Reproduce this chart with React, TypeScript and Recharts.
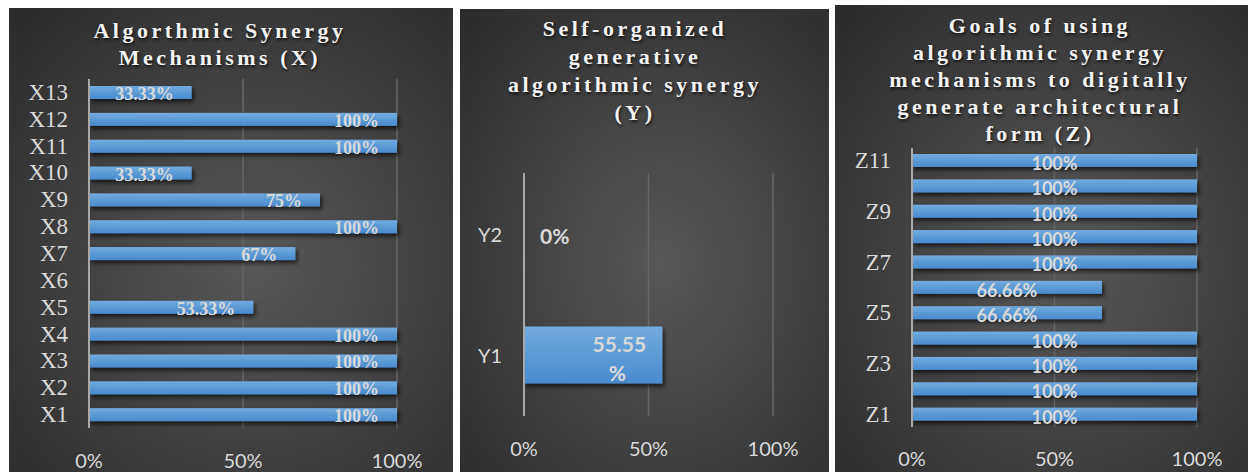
import React from 'react';
import { BarChart, Bar, XAxis, YAxis, CartesianGrid, LabelList } from 'recharts';

// categories listed bottom-up, the way the source spreadsheet holds them
const xCategories = ['X1', 'X2', 'X3', 'X4', 'X5', 'X6', 'X7', 'X8', 'X9', 'X10', 'X11', 'X12', 'X13'];
const xValues = [100, 100, 100, 100, 53.33, 0, 67, 100, 75, 33.33, 100, 100, 33.33];

const yCategories = ['Y1', 'Y2'];
const yValues = [55.55, 0];

const zCategories = ['Z1', 'Z2', 'Z3', 'Z4', 'Z5', 'Z6', 'Z7', 'Z8', 'Z9', 'Z10', 'Z11'];
const zValues = [100, 100, 100, 100, 66.66, 66.66, 100, 100, 100, 100, 100];

const percentTicks = [0, 50, 100];

const xTitle = ['Algorthmic Synergy', 'Mechanisms (X)'];
const yTitle = ['Self-organized', 'generative', 'algorithmic synergy', '(Y)'];
const zTitle = [
  'Goals of using',
  'algorithmic synergy',
  'mechanisms to digitally',
  'generate architectural',
  'form (Z)',
];

const SERIF = '"Liberation Serif", "Times New Roman", serif';
const SANS = 'Lato, "Open Sans", sans-serif';
const TEXT = '#d9d9d9';

const toRows = (cats: string[], vals: number[]) => cats.map((name, i) => ({ name, value: vals[i] }));

function Title({ lines, top, center, lineHeight }: { lines: string[]; top: number; center: number; lineHeight: number }) {
  return (
    <div
      style={{
        position: 'absolute',
        left: center - 200,
        top,
        width: 400,
        textAlign: 'center',
        fontFamily: SERIF,
        fontWeight: 'bold',
        fontSize: 22,
        letterSpacing: 3.5,
        lineHeight: `${lineHeight}px`,
        color: '#f4f4f4',
        textShadow: '1px 2px 3px rgba(0,0,0,0.7)',
        whiteSpace: 'nowrap',
        pointerEvents: 'none',
      }}
    >
      {lines.map((l) => (
        <div key={l}>{l}</div>
      ))}
    </div>
  );
}

function Defs({ id }: { id: string }) {
  return (
    <defs>
      <linearGradient id={`${id}-fill`} x1="0" y1="0" x2="0" y2="1">
        <stop offset="0%" stopColor="#74abdf" />
        <stop offset="50%" stopColor="#5b9bd5" />
        <stop offset="100%" stopColor="#4a8ace" />
      </linearGradient>
      <filter id={`${id}-shadow`} x="-10%" y="-60%" width="125%" height="260%">
        <feDropShadow dx="2" dy="3" stdDeviation="2" floodColor="#000" floodOpacity="0.65" />
      </filter>
    </defs>
  );
}

const barShape = (id: string) => (props: any) => {
  const { x, y, width, height } = props;
  if (!width || width <= 0) return <g />;
  return <rect x={x} y={y} width={width} height={height} fill={`url(#${id}-fill)`} filter={`url(#${id}-shadow)`} />;
};

const box = (props: any) => {
  const vb = props.viewBox && props.viewBox.width !== undefined ? props.viewBox : props;
  return { x: Number(vb.x), y: Number(vb.y), width: Number(vb.width), height: Number(vb.height) };
};

const pctTick = (props: any) => (
  <text
    x={props.x}
    y={props.y}
    textAnchor="middle"
    dominantBaseline="central"
    fill={TEXT}
    fontFamily={SANS}
    fontSize={20}
  >
    {`${props.payload.value}%`}
  </text>
);

const catTick = (family: string, size: number) => (props: any) => (
  <text
    x={props.x}
    y={props.y}
    textAnchor="end"
    dominantBaseline="central"
    fill={TEXT}
    fontFamily={family}
    fontSize={size}
  >
    {props.payload.value}
  </text>
);

function Panel({
  left,
  top,
  width,
  height,
  children,
}: {
  left: number;
  top: number;
  width: number;
  height: number;
  children: React.ReactNode;
}) {
  return (
    <div
      style={{
        position: 'absolute',
        left,
        top,
        width,
        height,
        background: 'radial-gradient(ellipse at 55% 55%, #585858 0%, #434343 45%, #2a2a2a 100%)',
        overflow: 'hidden',
      }}
    >
      {children}
    </div>
  );
}

function XChart() {
  const data = toRows(xCategories, xValues);
  return (
    <Panel left={9} top={8} width={444} height={464}>
      <BarChart width={444} height={464} data={data} layout="vertical" margin={{ top: 71, right: 56, bottom: 0, left: 0 }}>
        <Defs id="px" />
        <CartesianGrid horizontal={false} stroke="#666" strokeWidth={1.5} />
        <XAxis
          type="number"
          domain={[0, 100]}
          ticks={percentTicks}
          height={44}
          axisLine={false}
          tickLine={false}
          tickSize={0}
          tickMargin={32}
          tick={pctTick}
        />
        <YAxis
          type="category"
          dataKey="name"
          reversed
          width={80}
          interval={0}
          axisLine={{ stroke: '#a8a8a8', strokeWidth: 2 }}
          tickLine={false}
          tickSize={0}
          tickMargin={21}
          tick={catTick(SERIF, 23)}
        />
        <Bar dataKey="value" barSize={13} isAnimationActive={false} shape={barShape('px')}>
          <LabelList
            dataKey="value"
            content={(p: any) => {
              if (!p.value) return null;
              const b = box(p);
              return (
                <text
                  x={b.x + b.width - 18}
                  y={b.y + b.height / 2 + 1.5}
                  textAnchor="end"
                  dominantBaseline="central"
                  fill={TEXT}
                  fontFamily={SERIF}
                  fontWeight="bold"
                  fontSize={18}
                >
                  {`${p.value}%`}
                </text>
              );
            }}
          />
        </Bar>
      </BarChart>
      <Title lines={xTitle} top={9} center={211} lineHeight={27} />
    </Panel>
  );
}

function YChart() {
  const data = toRows(yCategories, yValues);
  return (
    <Panel left={460} top={9} width={369} height={463}>
      <BarChart width={369} height={463} data={data} layout="vertical" margin={{ top: 164, right: 56, bottom: 0, left: 0 }}>
        <Defs id="py" />
        <CartesianGrid horizontal={false} stroke="#666" strokeWidth={1.5} />
        <XAxis
          type="number"
          domain={[0, 100]}
          ticks={percentTicks}
          height={56}
          axisLine={false}
          tickLine={false}
          tickSize={0}
          tickMargin={32}
          tick={pctTick}
        />
        <YAxis
          type="category"
          dataKey="name"
          reversed
          width={64}
          interval={0}
          axisLine={{ stroke: '#a8a8a8', strokeWidth: 2 }}
          tickLine={false}
          tickSize={0}
          tickMargin={22}
          tick={catTick(SANS, 20)}
        />
        <Bar dataKey="value" barSize={57} isAnimationActive={false} shape={barShape('py')}>
          <LabelList
            dataKey="value"
            content={(p: any) => {
              const b = box(p);
              const cy = b.y + b.height / 2;
              const common = {
                fill: TEXT,
                fontFamily: SANS,
                fontWeight: 'bold' as const,
                fontSize: 21,
                dominantBaseline: 'central' as const,
              };
              if (!p.value) {
                return (
                  <text x={b.x + 16} y={cy + 2} textAnchor="start" {...common}>
                    {`${p.value}%`}
                  </text>
                );
              }
              const cx = b.x + b.width - 43;
              return (
                <text textAnchor="middle" {...common}>
                  <tspan x={cx} y={cy - 12}>{`${p.value}`}</tspan>
                  <tspan x={cx - 2} y={cy + 17}>%</tspan>
                </text>
              );
            }}
          />
        </Bar>
      </BarChart>
      <Title lines={yTitle} top={6} center={175} lineHeight={28} />
    </Panel>
  );
}

function ZChart() {
  const data = toRows(zCategories, zValues);
  return (
    <Panel left={835} top={5} width={413} height={467}>
      <BarChart width={413} height={467} data={data} layout="vertical" margin={{ top: 143, right: 51, bottom: 0, left: 0 }}>
        <Defs id="pz" />
        <CartesianGrid horizontal={false} stroke="#666" strokeWidth={1.5} />
        <XAxis
          type="number"
          domain={[0, 100]}
          ticks={percentTicks}
          height={45}
          axisLine={false}
          tickLine={false}
          tickSize={0}
          tickMargin={31}
          tick={pctTick}
        />
        <YAxis
          type="category"
          dataKey="name"
          reversed
          width={77}
          interval={1}
          axisLine={{ stroke: '#a8a8a8', strokeWidth: 2 }}
          tickLine={false}
          tickSize={0}
          tickMargin={21}
          tick={catTick(SERIF, 23)}
        />
        <Bar dataKey="value" barSize={13} isAnimationActive={false} shape={barShape('pz')}>
          <LabelList
            dataKey="value"
            content={(p: any) => {
              const b = box(p);
              return (
                <text
                  x={b.x + b.width / 2}
                  y={b.y + b.height / 2 + 2.5}
                  textAnchor="middle"
                  dominantBaseline="central"
                  fill={TEXT}
                  fontFamily={SANS}
                  fontWeight="bold"
                  fontSize={18}
                >
                  {`${p.value}%`}
                </text>
              );
            }}
          />
        </Bar>
      </BarChart>
      <Title lines={zTitle} top={7} center={205} lineHeight={27} />
    </Panel>
  );
}

export default function App() {
  return (
    <div style={{ position: 'absolute', left: 0, top: 0, width: 1248, height: 472, background: '#fff', overflow: 'hidden' }}>
      <XChart />
      <YChart />
      <ZChart />
    </div>
  );
}
